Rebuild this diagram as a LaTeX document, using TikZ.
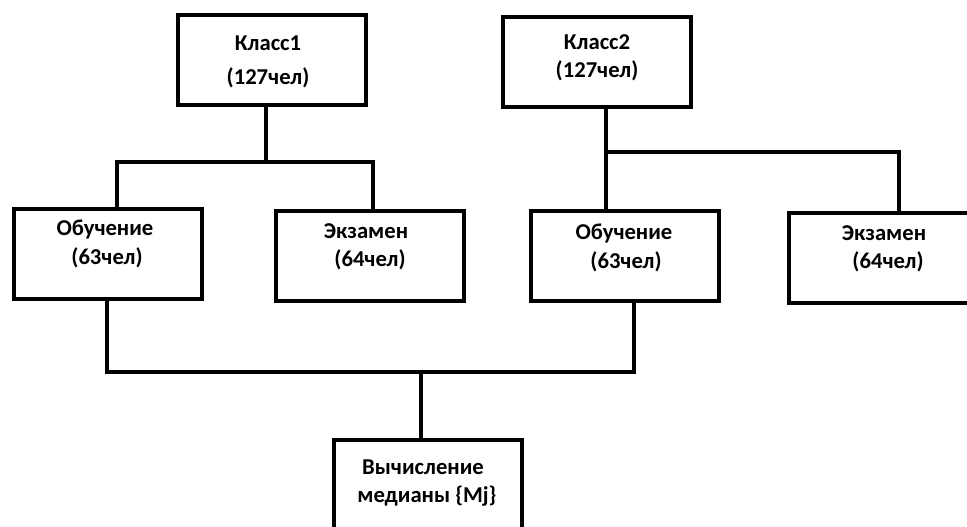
\documentclass[tikz,border=0pt]{standalone}
\usepackage{fontspec}
\setmainfont{Carlito}
\begin{document}
\begin{tikzpicture}[x=0.75pt,y=-0.75pt,
  box/.style={draw=black,line width=3pt,minimum width=188*0.75pt,minimum height=90*0.75pt,inner sep=0pt},
  conn/.style={draw=black,line width=3pt},
  txt/.style={font=\bfseries\fontsize{17pt}{20pt}\selectfont,anchor=base,inner sep=0pt}]
\useasboundingbox (0,0) rectangle (967,526);
\clip (0,0) rectangle (967,526);
% boxes
\node[box] (k1) at (271.5,60) {};
\node[box] (k2) at (596.5,61.5) {};
\node[box] (o1) at (107.5,253.5) {};
\node[box] (e1) at (370,255.5) {};
\node[box] (o2) at (624.5,256) {};
\node[box] (e2) at (883,258) {};
\node[box] (v) at (428,485) {};
% texts
\node[txt] (k1a) at (268,50) {Класс1};
\node[txt] (k1b) at (268,84) {(127чел)};
\node[txt] (k2a) at (597,49) {Класс2};
\node[txt] (k2b) at (597,77) {(127чел)};
\node[txt] (o1a) at (105,235) {Обучение};
\node[txt] (o1b) at (107,264) {(63чел)};
\node[txt] (e1a) at (366,238) {Экзамен};
\node[txt] (e1b) at (370,266) {(64чел)};
\node[txt] (o2a) at (624,239) {Обучение};
\node[txt] (o2b) at (626,268) {(63чел)};
\node[txt] (e2a) at (884,240) {Экзамен};
\node[txt] (e2b) at (888,268) {(64чел)};
\node[txt] (va) at (423,474) {Вычисление};
\node[txt] (vb) at (427,502) {медианы \{Mj\}};
% junction coordinates
\coordinate (j1) at (266,162);
\coordinate (j1l) at (117,162);
\coordinate (j1r) at (373,162);
\coordinate (j2) at (606,152);
\coordinate (j2r) at (899,152);
\coordinate (j3l) at (107,372);
\coordinate (j3r) at (634,372);
\coordinate (j3) at (421,372);
% connectors
\draw[conn] (k1.south -| j1) -- (j1);
\draw[conn] (o1.north -| j1l) -- (j1l) -- (j1r) -- (e1.north -| j1r);
\draw[conn] (k2.south -| j2) -- (o2.north -| j2);
\draw[conn] (j2) -- (j2r) -- (e2.north -| j2r);
\draw[conn] (o1.south -| j3l) -- (j3l) -- (j3r) -- (o2.south -| j3r);
\draw[conn] (j3) -- (v.north -| j3);
\end{tikzpicture}
\end{document}
